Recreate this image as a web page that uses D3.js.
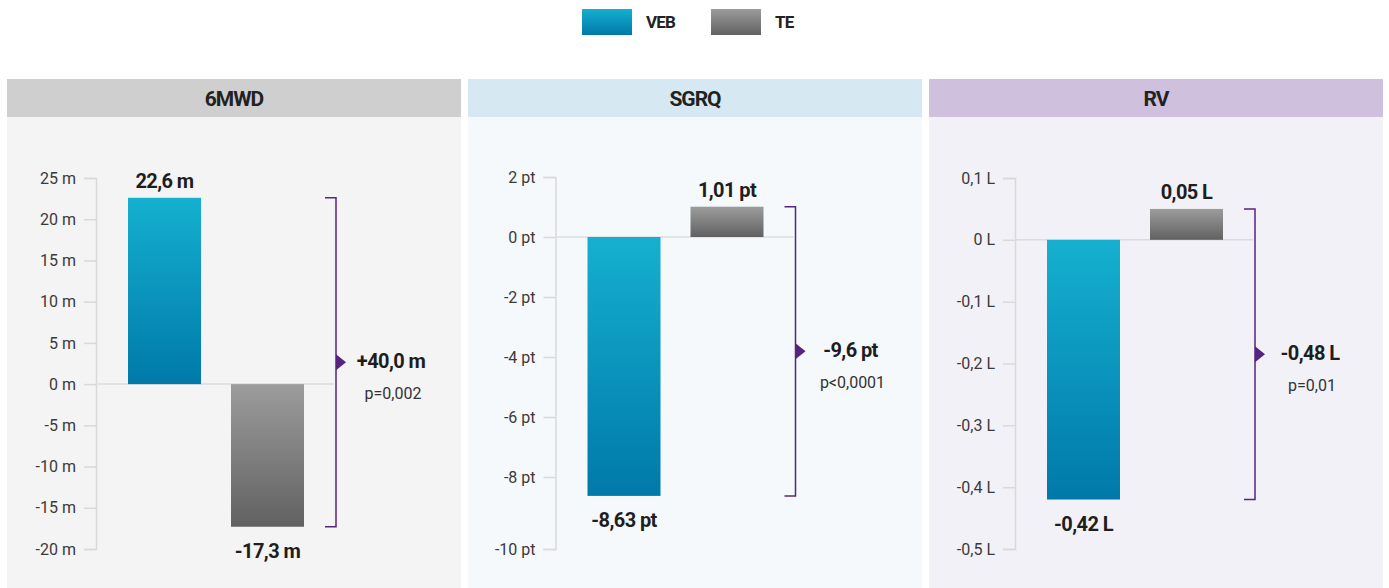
<!DOCTYPE html>
<html lang="en">
<head>
    <meta charset="UTF-8">
    <script src="https://cdnjs.cloudflare.com/ajax/libs/d3/7.8.5/d3.min.js"></script>
    <title>VEB vs TE</title>
    <style>
        body { margin: 0; background: #fff; }
        svg text { font-family: Roboto, "Liberation Sans", sans-serif; }
    </style>
</head>
<body>
    <svg width="1389" height="588"></svg>
    <script>
        // data
        const series = ["VEB", "TE"]
        const panels = ["6MWD", "SGRQ", "RV"]
        const units = ["m", "pt", "L"]
        const vebValues = [22.6, -8.63, -0.42]
        const teValues = [-17.3, 1.01, 0.05]
        const diffLabels = ["+40,0 m", "-9,6 pt", "-0,48 L"]
        const pLabels = ["p=0,002", "p<0,0001", "p=0,01"]
        const ticks6mwd = [25, 20, 15, 10, 5, 0, -5, -10, -15, -20]
        const ticksSgrq = [2, 0, -2, -4, -6, -8, -10]
        const ticksRv = [0.1, 0, -0.1, -0.2, -0.3, -0.4, -0.5]
        const tickSets = [ticks6mwd, ticksSgrq, ticksRv]

        const headerColors = ["#cfcfcf", "#d6e9f2", "#cfc0dd"]
        const panelColors = ["#f4f4f4", "#f5f9fb", "#f2f1f7"]
        const purple = "#55247f"

        const svg = d3.select("svg")
        const defs = svg.append("defs")

        function grad(id, c1, c2) {
            const g = defs.append("linearGradient").attr("id", id)
                .attr("x1", 0).attr("y1", 0).attr("x2", 0).attr("y2", 1)
            g.append("stop").attr("offset", "0%").attr("stop-color", c1)
            g.append("stop").attr("offset", "100%").attr("stop-color", c2)
        }
        grad("gVEB", "#15b0d0", "#0079a9")
        grad("gTE", "#9c9c9c", "#616161")

        const fmt = v => String(v).replace(".", ",")

        // legend
        const legend = svg.append("g")
        series.forEach((s, i) => {
            const lx = 582 + i * 129
            legend.append("rect").attr("x", lx).attr("y", 9).attr("width", 50).attr("height", 26)
                .attr("fill", `url(#g${s})`)
            legend.append("text").attr("x", lx + 64).attr("y", 28)
                .style("font-size", "17px").style("font-weight", "bold").style("fill", "#222")
                .style("letter-spacing", "-0.8px")
                .text(s)
        })

        const plotTop = 178, plotBottom = 549

        panels.forEach((name, i) => {
            const bx = 7 + i * 461
            const cx = 7 + i * 459.5
            const g = svg.append("g")

            g.append("rect").attr("x", bx).attr("y", 79).attr("width", 454).attr("height", 38)
                .attr("fill", headerColors[i])
            g.append("rect").attr("x", bx).attr("y", 117).attr("width", 454).attr("height", 471)
                .attr("fill", panelColors[i])
            g.append("text").attr("x", bx + 227).attr("y", 106)
                .attr("text-anchor", "middle")
                .style("font-size", "21px").style("font-weight", "bold").style("fill", "#222")
                .style("letter-spacing", "-1px")
                .text(name)

            const ticks = tickSets[i]
            let y
            if (i === 1) {
                // SGRQ axis: lowest tick sits lower than the regular spacing
                y = d3.scaleLinear().domain([2, -9, -10]).range([plotTop - 1, 507, plotBottom])
            } else {
                y = d3.scaleLinear().domain([d3.max(ticks), d3.min(ticks)]).range([plotTop, plotBottom])
            }

            const axisX = cx + 89
            const axis = d3.axisLeft(y).tickValues(ticks).tickSize(12).tickSizeOuter(12)
                .tickPadding(8).tickFormat(d => fmt(d) + " " + units[i])
            const ag = g.append("g").attr("transform", `translate(${axisX},0)`).call(axis)
            ag.selectAll("path, line").attr("stroke", "#d9d9d9").attr("stroke-width", 1.5)
            ag.selectAll("text").style("font-size", "16px").style("fill", "#3a3a3a")
                .style("font-family", "Roboto, sans-serif")

            // zero line
            g.append("line").attr("x1", axisX).attr("x2", cx + 327)
                .attr("y1", y(0)).attr("y2", y(0))
                .attr("stroke", "#dcdcdc").attr("stroke-width", 1.5)

            const x = d3.scaleBand().domain(series).range([cx + 121, cx + 297]).paddingInner(30 / 103)
            const vals = [vebValues[i], teValues[i]]

            series.forEach((s, k) => {
                const v = vals[k]
                g.append("rect")
                    .attr("x", x(s)).attr("width", x.bandwidth())
                    .attr("y", y(Math.max(0, v))).attr("height", Math.abs(y(v) - y(0)))
                    .attr("fill", `url(#g${s})`)
                g.append("text")
                    .attr("x", x(s) + x.bandwidth() / 2)
                    .attr("y", v >= 0 ? y(v) - 10 : y(v) + 31)
                    .attr("text-anchor", "middle")
                    .style("font-size", "20px").style("font-weight", "bold").style("fill", "#1e1e1e")
                    .style("letter-spacing", "-0.6px")
                    .text(fmt(v) + " " + units[i])
            })

            // bracket for the difference
            const yHi = y(d3.max(vals)), yLo = y(d3.min(vals))
            const brX = cx + 329
            g.append("path")
                .attr("d", `M${brX - 11},${yHi}H${brX}V${yLo}H${brX - 11}`)
                .attr("fill", "none").attr("stroke", purple).attr("stroke-width", 1.5)
            const yMid = (yHi + yLo) / 2
            g.append("path")
                .attr("d", `M${brX},${yMid - 8}L${brX + 10},${yMid}L${brX},${yMid + 8}Z`)
                .attr("fill", purple)
            g.append("text").attr("x", cx + 384).attr("y", yMid + 6)
                .attr("text-anchor", "middle")
                .style("font-size", "20px").style("font-weight", "bold").style("fill", "#1e1e1e")
                .style("letter-spacing", "-0.6px")
                .text(diffLabels[i])
            g.append("text").attr("x", cx + 386).attr("y", yMid + 37)
                .attr("text-anchor", "middle")
                .style("font-size", "16px").style("fill", "#333")
                .text(pLabels[i])
        })
    </script>
</body>
</html>
